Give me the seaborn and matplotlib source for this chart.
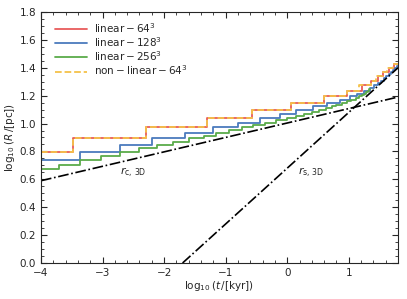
import numpy as np
import pandas as pd
import matplotlib
matplotlib.use('Agg')
import matplotlib.pyplot as plt
import seaborn as sns
from matplotlib.ticker import MultipleLocator

# step curves: x where the level changes, and the levels (first level starts at x=-4)
red_x = [-4.0, -3.476, -2.29, -1.305, -0.575, 0.054, 0.594, 0.963, 1.21, 1.36, 1.47, 1.56, 1.65, 1.74]
red_y = [0.796, 0.893, 0.972, 1.039, 1.097, 1.148, 1.194, 1.235, 1.273, 1.308, 1.340, 1.370, 1.398, 1.424]

yel_x = [-4.0, -3.476, -2.29, -1.305, -0.575, 0.054, 0.594, 0.963, 1.17, 1.36, 1.44, 1.56, 1.62, 1.72]
yel_y = [0.796, 0.893, 0.972, 1.039, 1.097, 1.148, 1.194, 1.235, 1.273, 1.308, 1.340, 1.370, 1.398, 1.424]

blue_x = [-4.0, -3.36, -2.72, -2.19, -1.66, -1.20, -0.80, -0.445, -0.12, 0.15, 0.42, 0.65, 0.85,
          1.02, 1.14, 1.25, 1.34, 1.41, 1.47, 1.52, 1.57, 1.61, 1.65, 1.69, 1.72, 1.75, 1.78]
blue_y = [0.738, 0.796, 0.847, 0.893, 0.934, 0.972, 1.007, 1.039, 1.069, 1.097, 1.123, 1.148, 1.171,
          1.194, 1.215, 1.235, 1.254, 1.273, 1.291, 1.308, 1.324, 1.340, 1.355, 1.370, 1.384, 1.398, 1.411]

green_x = [-4.0, -3.71, -3.37, -3.02, -2.72, -2.40, -2.12, -1.86, -1.60, -1.36, -1.15, -0.95, -0.74,
           -0.55, -0.36, -0.18, -0.01, 0.14, 0.27, 0.40, 0.51, 0.63, 0.72, 0.80, 0.89, 0.97, 1.04,
           1.12, 1.16, 1.21, 1.25, 1.28, 1.31, 1.33]
green_y = [0.671, 0.706, 0.738, 0.768, 0.796, 0.822, 0.847, 0.870, 0.893, 0.914, 0.934, 0.953, 0.972,
           0.990, 1.007, 1.023, 1.039, 1.054, 1.069, 1.083, 1.097, 1.110, 1.123, 1.136, 1.148, 1.160, 1.171,
           1.183, 1.194, 1.205, 1.215, 1.225, 1.235, 1.245]
green_end = 1.34

rc_x = [-4.0, 1.8]
rc_y = [0.59, 1.19]
rs_x = [-1.7, 0.0, 1.8]
rs_y = [0.0, 0.68, 1.40]

labels = [r'$\mathrm{linear-64^3}$', r'$\mathrm{linear-128^3}$',
          r'$\mathrm{linear-256^3}$', r'$\mathrm{non-linear-64^3}$']
colors = ['#e85c5c', '#4b7bbd', '#5aab4a', '#f5c24a']

sns.set_style('ticks')
plt.rcParams['font.family'] = ['DejaVu Sans']
plt.rcParams['mathtext.fontset'] = 'dejavusans'

fig = plt.figure(figsize=(4.07, 2.99), dpi=100)
ax = fig.add_axes([0.1007, 0.1204, 0.8773, 0.8396])


def steps(xs, ys, xend):
    return pd.DataFrame({'x': list(xs) + [xend], 'y': list(ys) + [ys[-1]]})


series = [(red_x, red_y, 1.8, '-'), (blue_x, blue_y, 1.8, '-'),
          (green_x, green_y, green_end, '-'), (yel_x, yel_y, 1.8, '--')]
for (xs, ys, xe, ls), lab, c in zip(series, labels, colors):
    d = steps(xs, ys, xe)
    sns.lineplot(data=d, x='x', y='y', ax=ax, color=c, lw=1.3, ls=ls,
                 drawstyle='steps-post', estimator=None, sort=False, label=lab)

ax.plot(rc_x, rc_y, color='k', ls='-.', lw=1.2)
ax.plot(rs_x, rs_y, color='k', ls='-.', lw=1.2)

ax.text(-2.72, 0.645, r'$r_{\rm c,\,3D}$', fontsize=8, va='center')
ax.text(0.18, 0.645, r'$r_{\rm s,\,3D}$', fontsize=8, va='center')

ax.set_xlim(-4, 1.8)
ax.set_ylim(0, 1.8)
ax.xaxis.set_major_locator(MultipleLocator(1))
ax.xaxis.set_minor_locator(MultipleLocator(0.2))
ax.yaxis.set_major_locator(MultipleLocator(0.2))
ax.yaxis.set_minor_locator(MultipleLocator(0.05))
ax.tick_params(which='both', direction='in', top=True, right=True, labelsize=7.5)
ax.tick_params(which='major', length=4, width=0.8)
ax.tick_params(which='minor', length=2, width=0.6)
for s in ax.spines.values():
    s.set_linewidth(0.8)

ax.set_xlabel(r'$\log_{10}(t\,/[\mathrm{kyr}])$', fontsize=7.5, labelpad=1)
ax.set_ylabel(r'$\log_{10}(R\,/[\mathrm{pc}])$', fontsize=7.5, labelpad=2)

ax.legend(loc='upper left', bbox_to_anchor=(0.031, 0.976), frameon=False, fontsize=7.5,
          handlelength=3.1, handletextpad=0.6, borderaxespad=0, borderpad=0.3, labelspacing=0.03)

fig.savefig('out.png', dpi=100)
